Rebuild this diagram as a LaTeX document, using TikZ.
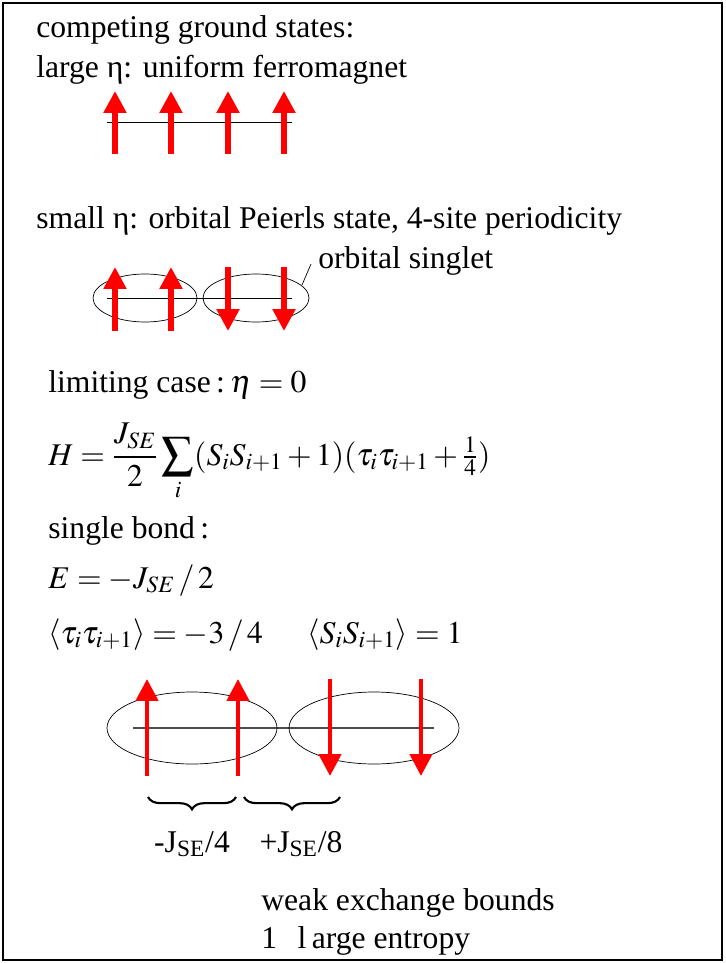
\documentclass[tikz,border=0pt]{standalone}
\usepackage{amsmath}
\usepackage{mathptmx}
\usepackage{fontspec}
\setmainfont{Liberation Serif}
\usetikzlibrary{arrows.meta,decorations.pathreplacing}
\tikzset{
  spinarrow/.style={red,line width=3pt,-{Triangle[length=12.5pt,width=12.5pt]}},
  bigspinarrow/.style={red,line width=2.6pt,-{Triangle[length=12.5pt,width=12.5pt]}},
  txt/.style={anchor=base west,inner sep=0pt,font=\fontsize{18}{22}\selectfont},
  bondbrace/.style={line width=1.2pt,decorate,decoration={brace,amplitude=7pt}}
}
\begin{document}
\begin{tikzpicture}[x=.02cm,y=-.02cm]
  \useasboundingbox (0,0) rectangle (725,963);
  \draw[line width=1.2pt] (3,3) rectangle (722,960);
  % ferromagnet
  \node[txt] (head) at (36,38) {competing ground states:};
  \node[txt] (large) at (36,78) {large η: uniform ferromagnet};
  \draw (107,122)--(292,122);
  \foreach \x in {115,171,228,284} \draw[spinarrow] (\x,154)--(\x,91);
  % orbital Peierls state
  \node[txt] (small) at (36,228) {small η: orbital Peierls state, 4-site periodicity};
  \draw (107,298)--(292,298);
  \draw (145,298) ellipse [x radius=52,y radius=24] (256,298) ellipse [x radius=53,y radius=24];
  \foreach \x in {115,171} \draw[spinarrow] (\x,331)--(\x,267);
  \foreach \x in {228,284} \draw[spinarrow] (\x,267)--(\x,331);
  \node[txt] (singlet) at (318,268) {orbital singlet};
  \coordinate (lead) at (302,285); \draw (lead)--(311,264);
  % limiting case
  \node[txt] (limit) at (48,392) {limiting case\,:\,$\eta=0$};
  \node[txt] (ham) at (48,465) {$\displaystyle H=\frac{J_{SE}}{2}\sum_i(S_iS_{i+1}+1)(\tau_i\tau_{i+1}+\tfrac14)$};
  \node[txt] (bond) at (48,538) {single bond\,:};
  \node[txt] (energy) at (48,588) {$E=-J_{SE}\,/\,2$};
  \node[txt] (tau) at (48,643) {$\left\langle\tau_i\tau_{i+1}\right\rangle=-3\,/\,4$};
  \node[txt] (corr) at (307,643) {$\left\langle S_iS_{i+1}\right\rangle=1$};
  % single bond picture
  \draw[gray!60!black,line width=.9pt] (133,728)--(434,728);
  \draw (192,728) ellipse [x radius=85,y radius=36] (374,728) ellipse [x radius=85,y radius=36];
  \foreach \x in {147,238} \draw[bigspinarrow] (\x,776)--(\x,679);
  \foreach \x in {330,421} \draw[bigspinarrow] (\x,679)--(\x,776);
  \draw[bondbrace] (236,797)--(148,797); \draw[bondbrace] (340,797)--(244,797);
  \node[txt,anchor=base] (ferro) at (192,852) {-J\textsubscript{SE}/4};
  \node[txt,anchor=base] (anti) at (301,852) {+J\textsubscript{SE}/8};
  \node[txt] (weak) at (261,910) {weak exchange bounds};
  \node[txt] (entropy) at (261,948) {1\hspace{.65em}l\,arge entropy};
\end{tikzpicture}
\end{document}
